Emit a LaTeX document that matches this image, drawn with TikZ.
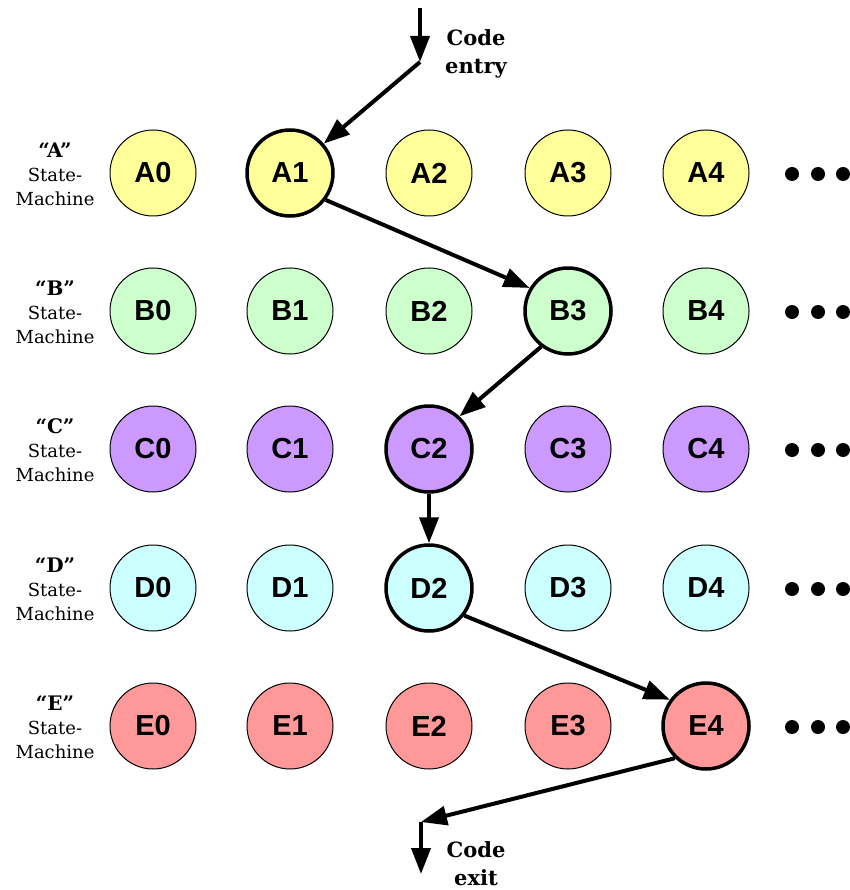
\documentclass[tikz,border=0pt]{standalone}
\usepackage{fontspec}
\setmainfont{DejaVu Serif}
\newfontfamily\statefont{Liberation Sans}
\usetikzlibrary{arrows.meta}

\definecolor{smA}{HTML}{FFFF99}
\definecolor{smB}{HTML}{CCFFCC}
\definecolor{smC}{HTML}{CC99FF}
\definecolor{smD}{HTML}{CCFFFF}
\definecolor{smE}{HTML}{FF9999}

\newcommand{\smname}[1]{{\bfseries\fontsize{20}{24}\selectfont “#1”}}

\tikzset{
	st/.style = {circle, draw, line width=1pt, minimum size=86pt, inner sep=0pt,
		font=\statefont\bfseries\fontsize{29}{29}\selectfont},
	cur/.style = {line width=3.5pt},
	flow/.style = {line width=4pt, -{Triangle[length=26pt,width=19pt]}},
	smlabel/.style = {align=center, font=\fontsize{18}{24}\selectfont},
	codelabel/.style = {align=center, font=\bfseries\fontsize{21}{28}\selectfont}
}

\begin{document}
\begin{tikzpicture}[x=1pt, y=-1pt]
	\useasboundingbox (0,0) rectangle (849,890);

	% machine names
	\node[smlabel] (lA) at (55,174) {\smname{A}\\State-\\Machine};
	\node[smlabel] (lB) at (55,312) {\smname{B}\\State-\\Machine};
	\node[smlabel] (lC) at (55,450) {\smname{C}\\State-\\Machine};
	\node[smlabel] (lD) at (55,589) {\smname{D}\\State-\\Machine};
	\node[smlabel] (lE) at (55,727) {\smname{E}\\State-\\Machine};

	% states
	\node[st, fill=smA] (A0) at (153,173) {A0};
	\node[st, fill=smA, cur] (A1) at (290,173) {A1};
	\node[st, fill=smA] (A2) at (429,173) {A2};
	\node[st, fill=smA] (A3) at (568,173) {A3};
	\node[st, fill=smA] (A4) at (706,173) {A4};

	\node[st, fill=smB] (B0) at (153,311) {B0};
	\node[st, fill=smB] (B1) at (290,311) {B1};
	\node[st, fill=smB] (B2) at (429,311) {B2};
	\node[st, fill=smB, cur] (B3) at (568,311) {B3};
	\node[st, fill=smB] (B4) at (706,311) {B4};

	\node[st, fill=smC] (C0) at (153,449) {C0};
	\node[st, fill=smC] (C1) at (290,449) {C1};
	\node[st, fill=smC, cur] (C2) at (429,449) {C2};
	\node[st, fill=smC] (C3) at (568,449) {C3};
	\node[st, fill=smC] (C4) at (706,449) {C4};

	\node[st, fill=smD] (D0) at (153,588) {D0};
	\node[st, fill=smD] (D1) at (290,588) {D1};
	\node[st, fill=smD, cur] (D2) at (429,588) {D2};
	\node[st, fill=smD] (D3) at (568,588) {D3};
	\node[st, fill=smD] (D4) at (706,588) {D4};

	\node[st, fill=smE] (E0) at (153,726) {E0};
	\node[st, fill=smE] (E1) at (290,726) {E1};
	\node[st, fill=smE] (E2) at (429,726) {E2};
	\node[st, fill=smE] (E3) at (568,726) {E3};
	\node[st, fill=smE, cur] (E4) at (706,726) {E4};

	% more states
	\fill (792,174) circle (7) (818,174) circle (7) (843,174) circle (7);
	\fill (792,312) circle (7) (818,312) circle (7) (843,312) circle (7);
	\fill (792,450) circle (7) (818,450) circle (7) (843,450) circle (7);
	\fill (792,589) circle (7) (818,589) circle (7) (843,589) circle (7);
	\fill (792,727) circle (7) (818,727) circle (7) (843,727) circle (7);

	% entry and exit
	\coordinate (in) at (420,8);
	\coordinate (inj) at (420,62);
	\coordinate (outj) at (421,822);
	\coordinate (out) at (421,874);
	\node[codelabel] (entry) at (476,54) {Code\\entry};
	\node[codelabel] (exit) at (476,864) {Code\\exit};

	% path taken
	\draw[flow] (in) -- (inj);
	\draw[flow] (inj) -- (A1.41);
	\draw[flow] (A1.-37) -- (B3.149);
	\draw[flow] (B3.233) -- (C2.47);
	\draw[flow] (C2.south) -- (D2.north);
	\draw[flow] (D2.-38) -- (E4.144);
	\draw[flow] (E4.226) -- (outj);
	\draw[flow] (outj) -- (out);
\end{tikzpicture}
\end{document}
